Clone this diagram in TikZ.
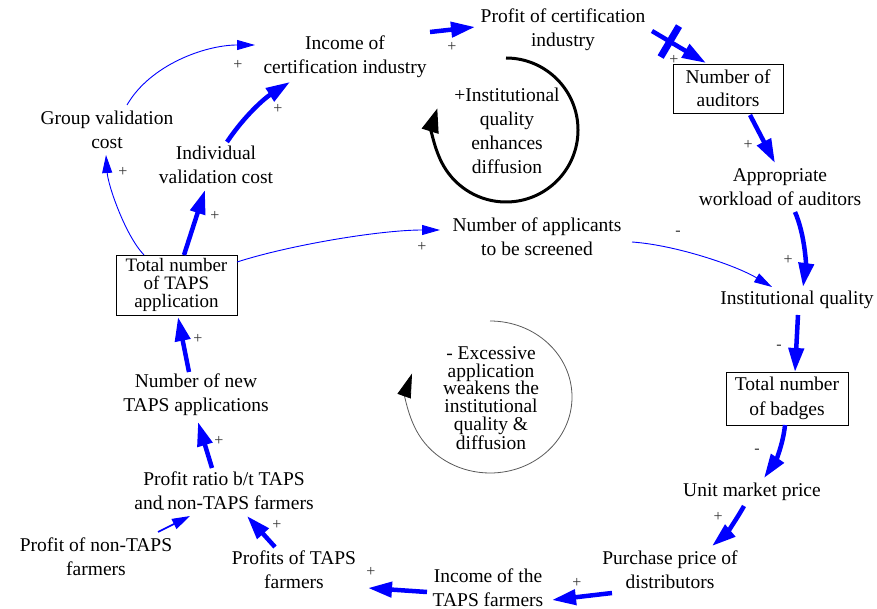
\documentclass[tikz,border=0pt]{standalone}
\usepackage{fontspec}
\IfFontExistsTF{LiberationSerif-Regular.ttf}{\newfontfamily\tnr{LiberationSerif-Regular.ttf}}{\newfontfamily\tnr{Liberation Serif}}
\usetikzlibrary{arrows.meta}
\begin{document}
\begin{tikzpicture}[x=1pt,y=-1pt,
  lab/.style={font=\tnr\fontsize{19.5}{24}\selectfont, align=center, inner sep=0pt},
  boxn/.style={draw, line width=0.6pt, inner sep=0pt, align=center},
  sgn/.style={font=\tnr\fontsize{16}{16}\selectfont, text=black!80, inner sep=0pt},
  biglink/.style={draw=blue, line width=4.5pt, -{Triangle[length=24pt,width=15pt]}},
  smalllink/.style={draw=blue, line width=0.9pt, -{Triangle[length=18pt,width=10pt]}},
  midlink/.style={draw=blue, line width=1.6pt, -{Triangle[length=18pt,width=11pt]}},
  delaybar/.style={fill=blue, draw=none, minimum width=7pt, minimum height=36pt, inner sep=0pt},
]
\useasboundingbox (0,0) rectangle (877,609);

% nodes
\node[lab] (inc) at (345,57) {Income of\\certification industry};
\node[lab] (pci) at (563,30) {Profit of certification\\industry};
\node[boxn, minimum width=110pt, minimum height=49pt, font=\tnr\fontsize{19.5}{23}\selectfont] (aud) at (728,88.5) {Number of\\auditors};
\node[lab] (wl) at (780,187) {Appropriate\\workload of auditors};
\node[lab] (iq) at (797,300) {Institutional quality};
\node[boxn, minimum width=122pt, minimum height=53pt, font=\tnr\fontsize{19.5}{25}\selectfont] (bad) at (787,398.5) {Total number\\of badges};
\node[lab] (ump) at (752,492) {Unit market price};
\node[lab] (ppd) at (670,570) {Purchase price of\\distributors};
\node[lab] (itf) at (488,587.5) {Income of the\\TAPS farmers};
\node[lab] (ptf) at (294,570) {Profits of TAPS\\farmers};
\node[lab] (pnt) at (96,557) {Profit of non-TAPS\\farmers};
\node[lab] (pr) at (224,491) {Profit ratio b/t TAPS\\and non-TAPS farmers};
\node[lab] (nta) at (196,395) {Number of new\\TAPS applications};
\node[boxn, minimum width=121pt, minimum height=60pt, font=\tnr\fontsize{19}{18}\selectfont] (tot) at (176.5,285) {Total number\\of TAPS\\application};
\node[lab] (gvc) at (107,130) {Group validation\\cost};
\node[lab] (ivc) at (216,165) {Individual\\validation cost};
\node[lab] (nas) at (537,237) {Number of applicants\\to be screened};
\node[lab] (loopr) at (507,131) {+Institutional\\quality\\enhances\\diffusion};
\node[lab, font=\tnr\fontsize{19.5}{17.8}\selectfont] (loopb) at (491,398) {- Excessive\\application\\weakens the\\institutional\\quality \&\\diffusion};

% loops
\draw[line width=3pt, -{Triangle[length=24pt,width=17pt]}] ([shift={(-1,-73)}]loopr.center) arc[start angle=90, end angle=-197.5, radius=72pt];
\draw[line width=0.8pt, draw=black!65, -{Triangle[length=24pt,width=14pt,color=black]}] ([shift={(-1,-77)}]loopb.center) arc[start angle=90, end angle=-198, x radius=82pt, y radius=76pt];

% connectors
\draw[smalllink] ([shift={(20,-25)}]gvc.center) .. controls (150,65) and (205,45) .. ([shift={(-90,-12)}]inc.center);
\draw[biglink] ([shift={(11,-23)}]ivc.center) .. controls (245,115) and (265,98) .. ([shift={(-55,25)}]inc.center);
\draw[biglink] ([shift={(85,-25)}]inc.center) -- ([shift={(-88,-3)}]pci.center);
\draw[biglink] ([shift={(89,1)}]pci.center) -- node[pos=0.33, sloped, delaybar] (dly) {} ([shift={(-22,-25.5)}]aud.center);
\draw[biglink] ([shift={(22,26.5)}]aud.center) -- ([shift={(-5,-24)}]wl.center);
\draw[biglink] ([shift={(15,25)}]wl.center) .. controls (805,235) and (806,265) .. ([shift={(6,-13)}]iq.center);
\draw[smalllink] ([shift={(95,5)}]nas.center) .. controls (675,245) and (735,265) .. ([shift={(-25,-13)}]iq.center);
\draw[biglink] ([shift={(1,15)}]iq.center) -- ([shift={(8,-26.5)}]bad.center);
\draw[biglink] ([shift={(-2,26.5)}]bad.center) .. controls (783,445) and (775,462) .. ([shift={(12,-14)}]ump.center);
\draw[biglink] ([shift={(-8,14)}]ump.center) .. controls (735,522) and (725,535) .. ([shift={(42,-24)}]ppd.center);
\draw[biglink] ([shift={(-58,23)}]ppd.center) -- ([shift={(64,12.5)}]itf.center);
\draw[biglink] ([shift={(-61,4.5)}]itf.center) -- ([shift={(74,18)}]ptf.center);
\draw[biglink] ([shift={(-19,-23)}]ptf.center) -- ([shift={(23,25)}]pr.center);
\draw[midlink] ([shift={(62,-25)}]pnt.center) -- ([shift={(-34,25)}]pr.center);
\draw[biglink] ([shift={(-12,-23)}]pr.center) -- ([shift={(2,27)}]nta.center);
\draw[biglink] ([shift={(-7,-23)}]nta.center) -- ([shift={(1.5,32)}]tot.center);
\draw[biglink] ([shift={(7.5,-30)}]tot.center) -- ([shift={(-11,25)}]ivc.center);
\draw[smalllink] ([shift={(-32.5,-30)}]tot.center) .. controls (125,235) and (108,185) .. ([shift={(-1,25)}]gvc.center);
\draw[smalllink] ([shift={(60.5,-23)}]tot.center) .. controls (290,245) and (380,230) .. ([shift={(-97,-7)}]nas.center);

% polarity signs
\node[sgn] (s1) at (238,65) {+};
\node[sgn] (s2) at (278,109) {+};
\node[sgn] (s3) at (452,47) {+};
\node[sgn] (s4) at (674,60) {+};
\node[sgn] (s5) at (748,145) {+};
\node[sgn] (s6) at (788,260) {+};
\node[sgn] (s7) at (678,233) {-};
\node[sgn] (s8) at (779,347) {-};
\node[sgn] (s9) at (757,451) {-};
\node[sgn] (s10) at (718,517) {+};
\node[sgn] (s11) at (577,583) {+};
\node[sgn] (s12) at (371,572) {+};
\node[sgn] (s13) at (277,525) {+};
\node[sgn] (s14) at (162,511) {-};
\node[sgn] (s15) at (219,441) {+};
\node[sgn] (s16) at (198,339) {+};
\node[sgn] (s17) at (215,216) {+};
\node[sgn] (s18) at (123,172) {+};
\node[sgn] (s19) at (422,247) {+};
\end{tikzpicture}
\end{document}
